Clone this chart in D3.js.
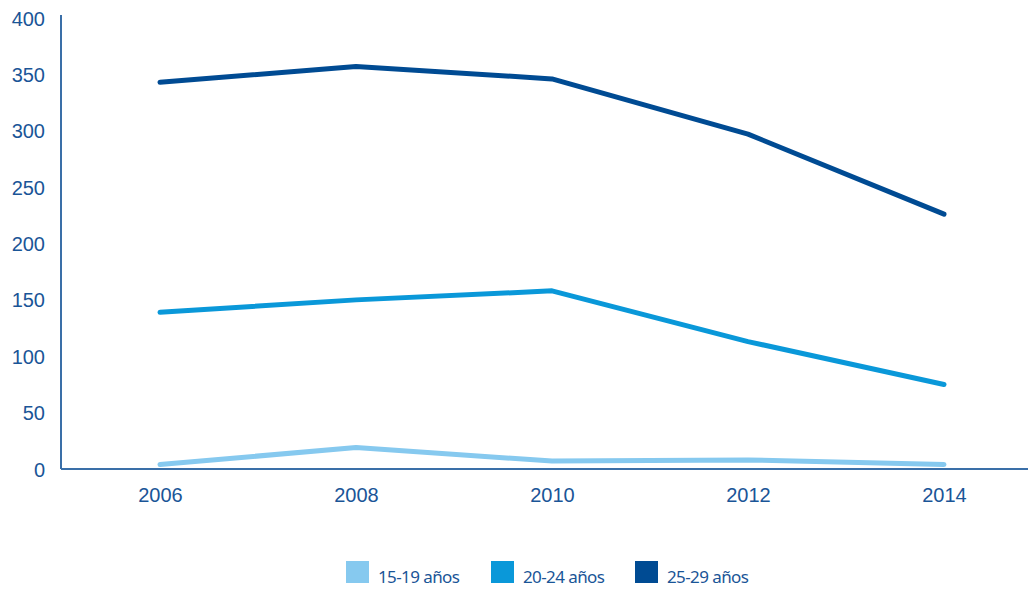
<!DOCTYPE html>
<html><head><meta charset="utf-8">
<script src="https://cdn.jsdelivr.net/npm/d3@7"></script>
<style>body{margin:0;background:#fff;}svg{display:block;font-family:"Noto Sans",sans-serif;}</style>
</head><body><svg id="c" width="1028" height="589"></svg>
<script>
const years = ["2006","2008","2010","2012","2014"];
const s1519 = [4, 19, 7, 8, 4];
const s2024 = [139, 150, 158, 113, 75];
const s2529 = [343, 357, 346, 297, 226];
const seriesNames = ["15-19 años","20-24 años","25-29 años"];
const seriesColors = ["#86c9ef","#0a98d9","#004b93"];
const yTicks = [0,50,100,150,200,250,300,350,400];

const svg = d3.select("#c");
const x = d3.scalePoint().domain(years).range([160, 944]);
const y = d3.scaleLinear().domain([0,400]).range([469, 18]);
const axisColor = "#3a6fa8", textColor = "#1a5597";

// y axis
const ya = svg.append("g").attr("transform","translate(61,0)")
  .call(d3.axisLeft(y).tickValues(yTicks).tickSize(0));
ya.select(".domain").attr("stroke",axisColor).attr("stroke-width",2).attr("d","M0,15V469");
ya.selectAll("text").attr("fill",textColor).style("font-size","20px").style("font-weight","500")
  .attr("dy","0.35em").attr("x",-16);

// x axis
const xa = svg.append("g").attr("transform","translate(0,469)")
  .call(d3.axisBottom(x).tickSize(0));
xa.select(".domain").attr("stroke",axisColor).attr("stroke-width",2).attr("d","M61,0H1028");
xa.selectAll("text").attr("fill",textColor).style("font-size","20px").style("font-weight","500")
  .attr("y",19).attr("dy","0.71em");

const data = [s1519, s2024, s2529];
const line = d3.line().x((d,i)=>x(years[i])).y(d=>y(d));
data.forEach((s,k)=>{
  svg.append("path").datum(s).attr("d",line).attr("fill","none")
    .attr("stroke",seriesColors[k]).attr("stroke-width",5)
    .attr("stroke-linecap","round").attr("stroke-linejoin","round");
});

// legend
const lx = [346, 491, 635];
const lg = svg.append("g");
seriesNames.forEach((n,k)=>{
  lg.append("rect").attr("x",lx[k]).attr("y",561).attr("width",23).attr("height",22).attr("fill",seriesColors[k]);
  lg.append("text").attr("x",lx[k]+32).attr("y",583).text(n).attr("fill",textColor)
    .style("font-size","17px").style("font-weight","400").style("letter-spacing","-0.6px");
});
</script></body></html>
